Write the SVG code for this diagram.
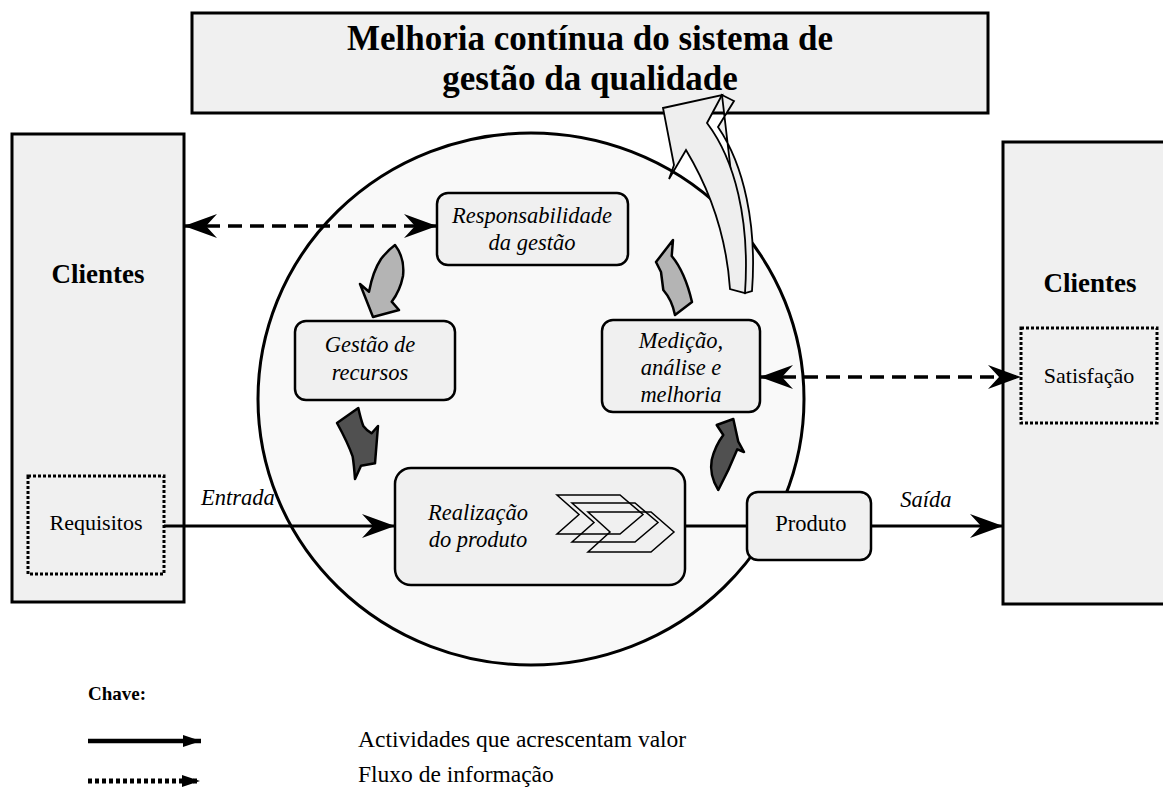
<svg xmlns="http://www.w3.org/2000/svg" width="1163" height="788" viewBox="0 0 1163 788">
<defs>
<style>
.box{fill:#f0f0f0;stroke:#000;stroke-width:3}
.node{fill:#f0f0f0;stroke:#000;stroke-width:2.5}
.dotbox{fill:none;stroke:#000;stroke-width:3;stroke-dasharray:3 2}
.t{font-family:"Liberation Serif","Times New Roman",serif;fill:#000}
.b{font-weight:bold}
.i{font-style:italic}
.solid{stroke:#000;stroke-width:3;fill:none}
.dash{stroke:#000;stroke-width:3.5;fill:none;stroke-dasharray:14 8}
.lg{fill:#b4b4b4;stroke:#000;stroke-width:2.5;stroke-linejoin:round}
.dk{fill:#505050;stroke:#000;stroke-width:2.5;stroke-linejoin:round}
.big{fill:#eeeeee;stroke:#000;stroke-width:1.8;stroke-linejoin:miter}
.chev{fill:none;stroke:#000;stroke-width:1.5}
</style>
<marker id="ah" markerUnits="userSpaceOnUse" viewBox="-34 -13 36 26" refX="0" refY="0" markerWidth="36" markerHeight="26" orient="auto-start-reverse">
<path d="M0,0 L-33,-12 L-22,0 L-33,12 Z" fill="#000"/>
</marker>
<marker id="lh" markerUnits="userSpaceOnUse" viewBox="-20 -8 22 16" refX="0" refY="0" markerWidth="22" markerHeight="16" orient="auto">
<path d="M0,0 L-18,-6 L-18,6 Z" fill="#000"/>
</marker>
</defs>

<g id="titulo">
<rect class="box" x="192" y="13" width="796" height="100"/>
<text class="t b" x="590" y="50" font-size="35" text-anchor="middle">Melhoria contínua do sistema de</text>
<text class="t b" x="590" y="90" font-size="35" text-anchor="middle">gestão da qualidade</text>
</g>

<g id="clientes-esq">
<rect class="box" x="12" y="134" width="172" height="468"/>
<text class="t b" x="98" y="283" font-size="27" text-anchor="middle">Clientes</text>
</g>
<g id="requisitos">
<rect class="dotbox" x="28" y="476" width="136" height="98"/>
<text class="t" x="96" y="530" font-size="22" text-anchor="middle">Requisitos</text>
</g>

<g id="clientes-dir">
<rect class="box" x="1003" y="142" width="175" height="462"/>
<text class="t b" x="1090" y="292" font-size="27" text-anchor="middle">Clientes</text>
</g>
<g id="satisfacao">
<rect class="dotbox" x="1021" y="328" width="136" height="95"/>
<text class="t" x="1089" y="383" font-size="22" text-anchor="middle">Satisfação</text>
</g>

<g id="circulo">
<ellipse cx="531" cy="399" rx="273" ry="266" fill="#f9f9f9" stroke="#000" stroke-width="3"/>
</g>

<g id="setas-ciclo">
<path class="lg" d="M395,245 Q405,258 403,276 Q400,291 391.7,301.7 L399,310 L373,317 L360,284 L369,291.7 Q373,271 381,259 Q388,250 395,245 Z"/>
<path class="dk" d="M337,423 L358.3,408 Q361,420 363.3,426 Q367,431 371.7,433.3 L378,426 L375,463.3 L361,465.7 L355,479 Q354,465 352.7,456.7 Q348,443 337,423 Z"/>
<path class="dk" d="M716.7,425 L733.3,419 L738.3,441.7 L744,452 L737.3,449.3 Q729,470 718.3,490 Q709,475 711.7,460 Q715,446 723.3,435 Z"/>
<path class="lg" d="M673,240 L671.7,256 Q685,272 692,302 L675,315 Q672,300 663.3,290 L661,272 L656,262 Z"/>
</g>

<g id="seta-melhoria">
<path class="big" d="M722,95 L734,101 L718,127 C744,165 757,225 752,291 L745,293 Z"/>
<path class="big" d="M663,108 L722,95 L707,123 C735,160 750,220 745,293 L730,289 Q725,215 686,150 L669,179 L674,165 Z"/>
</g>

<g id="no-responsabilidade">
<rect class="node" x="437" y="193" width="191" height="72" rx="11"/>
<text class="t i" x="532" y="223" font-size="22.5" text-anchor="middle">Responsabilidade</text>
<text class="t i" x="532" y="250" font-size="22.5" text-anchor="middle">da gestão</text>
</g>
<g id="no-recursos">
<rect class="node" x="295" y="321" width="160" height="79" rx="11"/>
<text class="t i" x="370" y="352" font-size="22.5" text-anchor="middle">Gestão de</text>
<text class="t i" x="370" y="380" font-size="22.5" text-anchor="middle">recursos</text>
</g>
<g id="no-medicao">
<rect class="node" x="602" y="320" width="158" height="92" rx="11"/>
<text class="t i" x="681" y="348" font-size="22.5" text-anchor="middle">Medição,</text>
<text class="t i" x="681" y="375" font-size="22.5" text-anchor="middle">análise e</text>
<text class="t i" x="681" y="402" font-size="22.5" text-anchor="middle">melhoria</text>
</g>
<g id="no-realizacao">
<rect class="node" x="395" y="468" width="290" height="117" rx="16"/>
<text class="t i" x="478" y="520" font-size="22.5" text-anchor="middle">Realização</text>
<text class="t i" x="478" y="547" font-size="22.5" text-anchor="middle">do produto</text>
<path class="chev" d="M557,495 L620,495 L643,514.5 L620,534 L557,534 L579,514.5 Z"/>
<path class="chev" d="M572,503 L635,503 L658,522.5 L635,542 L572,542 L594,522.5 Z"/>
<path class="chev" d="M588,512 L651,512 L674,532 L651,552 L588,552 L610,532 Z"/>
</g>
<g id="no-produto">
<rect class="node" x="747" y="492" width="124" height="68" rx="11"/>
<text class="t" x="811" y="531" font-size="22.5" text-anchor="middle">Produto</text>
</g>

<g id="conectores">
<line class="solid" x1="164" y1="526" x2="395" y2="526" marker-end="url(#ah)"/>
<line class="solid" x1="685" y1="526" x2="747" y2="526"/>
<line class="solid" x1="871" y1="526" x2="1003" y2="526" marker-end="url(#ah)"/>
<line class="dash" x1="184" y1="226" x2="437" y2="226" marker-start="url(#ah)" marker-end="url(#ah)"/>
<line class="dash" x1="760" y1="377" x2="1021" y2="377" marker-start="url(#ah)" marker-end="url(#ah)"/>
<text class="t i" x="238" y="505" font-size="22.5" text-anchor="middle">Entrada</text>
<text class="t i" x="926" y="507" font-size="22.5" text-anchor="middle">Saída</text>
</g>

<g id="legenda">
<text class="t b" x="88" y="700" font-size="19">Chave:</text>
<line x1="88" y1="741" x2="201" y2="741" stroke="#000" stroke-width="4.5" marker-end="url(#lh)"/>
<text class="t" x="358" y="747" font-size="23.5">Actividades que acrescentam valor</text>
<line x1="88" y1="781" x2="200" y2="781" stroke="#000" stroke-width="5" stroke-dasharray="4 3" marker-end="url(#lh)"/>
<text class="t" x="358" y="782" font-size="23.5">Fluxo de informação</text>
</g>
</svg>
